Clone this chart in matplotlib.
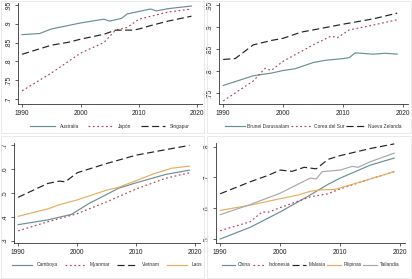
import matplotlib
matplotlib.use("Agg")
import matplotlib.pyplot as plt
from matplotlib.patches import Rectangle

plt.rcParams['font.family'] = ['Liberation Sans', 'DejaVu Sans']

# --- data (year, value) ---
years_a = [1990, 1993, 1995, 2000, 2004, 2005, 2007, 2008, 2012, 2013, 2015, 2019]
australia = [.871, .874, .886, .902, .912, .907, .914, .926, .939, .934, .940, .947]
years_j = [1990, 1995, 2000, 2004, 2006, 2008, 2010, 2015, 2019]
japon = [.722, .769, .822, .850, .883, .890, .912, .931, .939]
years_s = [1990, 1995, 1998, 2000, 2004, 2006, 2009, 2010, 2012, 2015, 2019]
singapur = [.819, .843, .851, .859, .872, .883, .883, .886, .895, .907, .920]

years_b = [1990, 1995, 1998, 2000, 2002, 2005, 2007, 2010, 2011, 2012, 2015, 2017, 2019]
brunei = [.768, .790, .796, .802, .806, .820, .825, .829, .831, .842, .839, .841, .839]
years_k = [1990, 1995, 1997, 1998, 2000, 2005, 2008, 2009, 2011, 2015, 2019]
corea = [.733, .778, .807, .802, .823, .860, .880, .876, .894, .905, .917]
years_n = [1990, 1992, 1995, 1998, 2000, 2003, 2005, 2010, 2015, 2019]
nzelanda = [.827, .829, .860, .870, .875, .889, .894, .907, .919, .932]

years_c = [1990, 1995, 1999, 2000, 2002, 2005, 2007, 2010, 2015, 2019]
camboya = [.367, .387, .410, .425, .456, .494, .520, .543, .578, .596]
years_m = [1990, 1995, 2000, 2005, 2010, 2015, 2019]
myanmar = [.341, .379, .413, .463, .517, .562, .585]
years_v = [1990, 1995, 1997, 1998, 2000, 2005, 2010, 2015, 2019]
vietnam = [.482, .540, .550, .547, .585, .624, .659, .682, .700]
years_l = [1990, 1995, 1997, 2000, 2005, 2007, 2010, 2013, 2016, 2019]
laos = [.402, .433, .451, .471, .512, .524, .552, .581, .604, .613]

years_ch = [1990, 1995, 2000, 2005, 2008, 2010, 2015, 2019]
china = [.500, .538, .588, .643, .678, .698, .740, .763]
years_i = [1990, 1995, 1997, 1998, 2000, 2005, 2008, 2010, 2015, 2019]
indonesia = [.527, .556, .588, .587, .602, .637, .647, .663, .695, .719]
years_ml = [1990, 1995, 1998, 2000, 2002, 2004, 2006, 2008, 2010, 2015, 2019]
malasia = [.647, .686, .707, .724, .720, .733, .728, .759, .771, .794, .809]
years_f = [1990, 1995, 2000, 2003, 2005, 2007, 2009, 2010, 2015, 2019]
filipinas = [.593, .610, .631, .643, .655, .660, .661, .666, .695, .719]
years_t = [1990, 1995, 2000, 2005, 2006, 2007, 2010, 2012, 2013, 2015, 2019]
tailandia = [.579, .612, .649, .698, .695, .719, .724, .736, .733, .751, .779]

xticks = [1990, 2000, 2010, 2020]

# Stata-like styles
c_teal = '#6b8f96'
c_red = '#b04558'
c_black = '#222222'
c_orange = '#e8ad5c'
c_grey = '#a8a8a8'
lw = 0.85
styles = [
    dict(color=c_teal, ls='-'),
    dict(color=c_red, ls=(0, (1.5, 2.2))),
    dict(color=c_black, ls=(0, (6, 3))),
    dict(color=c_orange, ls='-'),
    dict(color=c_grey, ls='-'),
]

panels = [
    ([(years_a, australia, 'Australia'), (years_j, japon, 'Japón'),
      (years_s, singapur, 'Singapur')],
     [.7, .75, .8, .85, .9, .95], ['.7', '.75', '.8', '.85', '.9', '.95'], (.687, .955)),
    ([(years_b, brunei, 'Brunei Darussalam'), (years_k, corea, 'Corea del Sur'),
      (years_n, nzelanda, 'Nueva Zelanda')],
     [.75, .8, .85, .9, .95], ['.75', '.8', '.85', '.9', '.95'], (.726, .955)),
    ([(years_c, camboya, 'Camboya'), (years_m, myanmar, 'Myanmar'),
      (years_v, vietnam, 'Vietnam'), (years_l, laos, 'Laos')],
     [.3, .4, .5, .6, .7], ['.3', '.4', '.5', '.6', '.7'], (.29, .71)),
    ([(years_ch, china, 'China'), (years_i, indonesia, 'Indonesia'),
      (years_ml, malasia, 'Malasia'), (years_f, filipinas, 'Filipinas'),
      (years_t, tailandia, 'Tailandia')],
     [.5, .6, .7, .8], ['.5', '.6', '.7', '.8'], (.487, .812)),
]

# legend spacing per panel: handlelength, columnspacing, handletextpad
leg_opts = [(5.0, 2.0, 1.0), (4.0, 0.4, 0.6), (4.2, 1.4, 0.9), (2.8, 0.4, 0.5)]

W, H = 412, 279
fig = plt.figure(figsize=(W / 100, H / 100), dpi=100)

# axes boxes in pixels: left, top, right, bottom
boxes = [(18, 3, 202, 104), (219, 3, 408, 104), (14, 143, 200, 243), (216, 143, 405, 243)]
frames = [(1, 1, 204, 133), (207, 1, 411, 133), (1, 136, 204, 278), (207, 136, 411, 278)]

for (x0, y0, x1, y1) in frames:
    fig.patches.append(Rectangle((x0 / W, 1 - y1 / H), (x1 - x0) / W, (y1 - y0) / H,
                                 transform=fig.transFigure, fill=False,
                                 edgecolor='#e6e6e6', linewidth=0.6))

for (series, yt, ytl, ylim), (l, t, r, b), (hl, cs, tp) in zip(panels, boxes, leg_opts):
    ax = fig.add_axes([l / W, 1 - b / H, (r - l) / W, (b - t) / H])
    for (xs, ys, name), st in zip(series, styles):
        ax.plot(xs, ys, lw=lw, label=name, **st)
    ax.set_xlim(1989.3, 2020.8)
    ax.set_ylim(*ylim)
    ax.set_xticks(xticks)
    ax.set_yticks(yt)
    ax.set_yticklabels(ytl, rotation=90, va='center')
    for s in ['top', 'right']:
        ax.spines[s].set_visible(False)
    for s in ['left', 'bottom']:
        ax.spines[s].set_linewidth(0.6)
        ax.spines[s].set_color('#333333')
    ax.tick_params(labelsize=4.8, length=2.5, width=0.5, pad=1.5, colors='#222222')
    ax.legend(loc='upper center', bbox_to_anchor=(0.5, -0.15), ncol=len(series),
              frameon=False, fontsize=3.5, handlelength=hl, columnspacing=cs,
              handletextpad=tp, labelcolor='#333333')

fig.savefig('out.png', dpi=100)
